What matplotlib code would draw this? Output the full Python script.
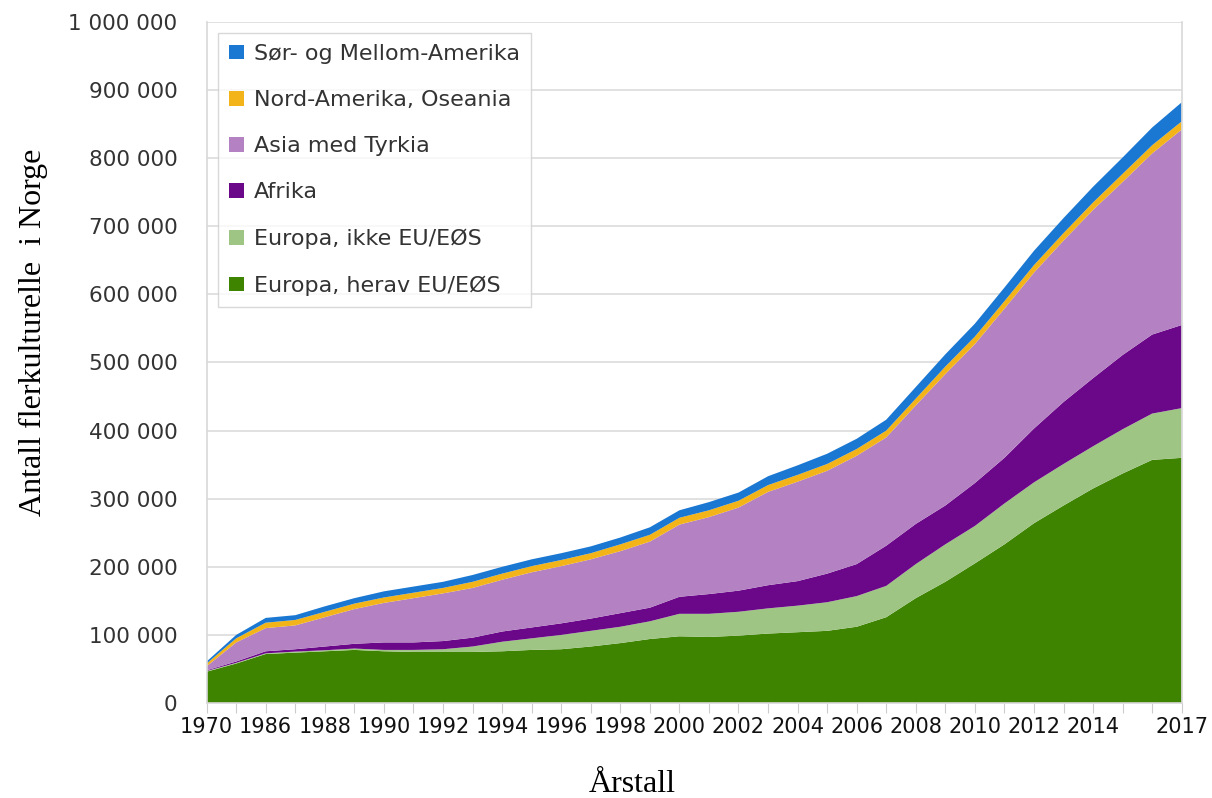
import matplotlib.pyplot as plt
import matplotlib.ticker as mticker

# categories on the x axis (note the gap 1970 -> 1980 -> 1986)
years = [1970, 1980] + list(range(1986, 2018))

# values in thousands
eu_eos = [46, 58, 72, 74, 76, 78, 76, 75, 75, 75, 76, 78, 79, 83, 88, 94, 98,
          97, 99, 102, 104, 106, 112, 126, 154, 178, 205, 233, 264, 290, 315, 337, 357, 360]
europa_ikke_eu = [1, 1, 1, 1.5, 1.5, 2, 2, 3, 4, 8, 14, 17, 21, 23, 24, 26, 33,
                  34, 35, 37, 39, 42, 45, 46, 50, 55, 55, 60, 60, 61, 62, 65, 68, 73]
afrika = [1, 2, 3, 3.5, 5.5, 7, 11, 11, 12, 13, 15, 16, 17, 18, 20, 20, 25,
          29, 31, 34, 36, 42, 47, 59, 59, 57, 63, 67, 79, 91, 100, 109, 116, 122]
asia_tyrkia = [6, 28, 34, 35, 43, 51, 58, 65, 70, 73, 76, 81, 84, 87, 91, 97, 106,
               113, 122, 137, 146, 151, 159, 159, 174, 193, 204, 219, 229, 237, 247, 254, 266, 287]
nord_amerika = [4, 6, 8, 8, 8, 8, 8, 8, 8, 9, 9, 9, 9, 9, 10, 10, 10,
                10, 10, 10, 10, 10, 10, 10, 10, 11, 11, 11, 11, 11, 11, 12, 12, 12]
sor_amerika = [3, 5, 7, 7, 8, 8, 9, 9, 9, 10, 10, 10, 10, 10, 10, 11, 11,
               12, 12, 13, 14, 15, 15, 16, 17, 18, 19, 20, 21, 22, 23, 24, 26, 28]

labels = ["Europa, herav EU/EØS", "Europa, ikke EU/EØS", "Afrika",
          "Asia med Tyrkia", "Nord-Amerika, Oseania", "Sør- og Mellom-Amerika"]
colors = ["#3e8401", "#9fc585", "#6b0889", "#b482c2", "#f2b418", "#1a77d2"]

shown_years = [1970] + list(range(1986, 2015, 2)) + [2017]

plt.rcParams['font.family'] = ['DejaVu Sans']

fig = plt.figure(figsize=(12.12, 7.98), dpi=100)
ax = fig.add_axes([0.1705, 0.119, 0.8045, 0.8535])

x = list(range(len(years)))
series = [eu_eos, europa_ikke_eu, afrika, asia_tyrkia, nord_amerika, sor_amerika]
series = [[v * 1000 for v in s] for s in series]
polys = ax.stackplot(x, *series, colors=colors, labels=labels, linewidth=0, zorder=2)

ax.set_xlim(0, len(years) - 1)
ax.set_ylim(0, 1_000_000)
ax.yaxis.set_major_locator(mticker.MultipleLocator(100_000))
ax.yaxis.set_major_formatter(mticker.FuncFormatter(lambda v, p: f"{int(v):,}".replace(",", " ")))
ax.grid(axis='y', color='#dcdcdc', linewidth=1.2, zorder=0)
ax.set_axisbelow(True)

ax.set_xticks(x)
ax.set_xticklabels([str(y) if y in shown_years else "" for y in years])

ax.tick_params(axis='y', length=0, pad=21, labelsize=15.5, labelcolor='#333333')
ax.tick_params(axis='x', length=7, color='#cccccc', pad=3, labelsize=15, labelcolor='#111111')

ax.spines['top'].set_visible(False)
for s in ['left', 'right', 'bottom']:
    ax.spines[s].set_color('#d8d8d8')
    ax.spines[s].set_linewidth(1.2)

handles = polys[::-1]
leg = ax.legend(handles, labels[::-1], loc='upper left', bbox_to_anchor=(0.005, 0.994),
                fontsize=16, frameon=True, fancybox=False, edgecolor='#cfcfcf',
                handlelength=0.65, handleheight=0.65, handletextpad=0.45,
                labelspacing=1.18, borderpad=0.5, borderaxespad=0.3)
for t in leg.get_texts():
    t.set_color('#333333')

fig.text(632 / 1212, 1 - 785 / 798, "Årstall", family='Liberation Serif',
         fontsize=23, ha='center', va='center')
fig.text(33 / 1212, 1 - 332 / 798, "Antall flerkulturelle  i Norge", family='Liberation Serif',
         fontsize=23, rotation=90, ha='center', va='center')

fig.savefig("out.png", dpi=100)
